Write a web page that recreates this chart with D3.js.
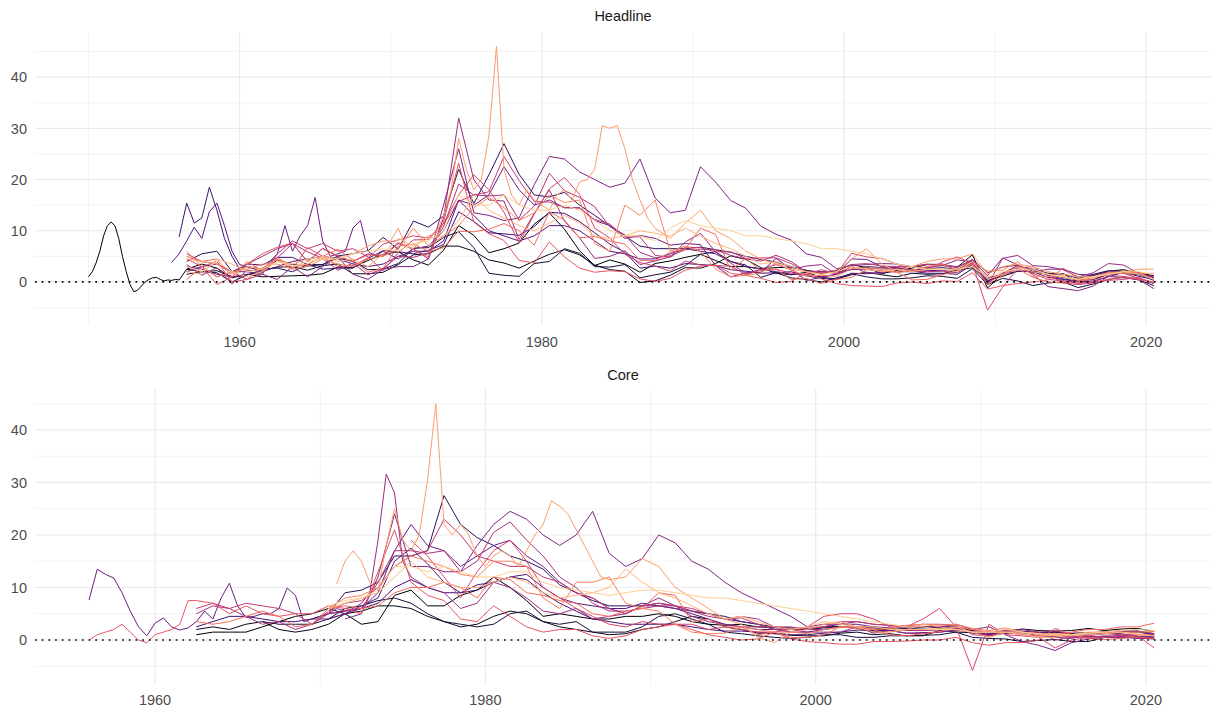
<!DOCTYPE html>
<html><head><meta charset="utf-8">
<script src="https://cdn.jsdelivr.net/npm/d3@7"></script>
<style>
body{margin:0;background:#fff;}
svg{display:block;font-family:"Liberation Sans",Arial,Helvetica,sans-serif;}
</style>
</head><body>
<svg id="chart" width="1214" height="708"></svg>
<script>
// ---------------- DATA (inflation, % y/y) ----------------
const panelTitles = ['Headline', 'Core'];
const xTickLabels = [1960, 1980, 2000, 2020];
const xMinorTicks = [1950, 1970, 1990, 2010];
const yTickLabels = [0, 10, 20, 30, 40];
const yMinorTicks = [-5, 5, 15, 25, 35, 45];
const countries = ['S01','S02','S03','S04','S05','S06','S07','S08','S09','S10','S11','S12','S13','S14','S15','S16','S17','S18'];

// ---- Headline ----
const h00a = [1.0,2.0,3.7,6.0,9.0,11.0,11.7,11.0,8.5,5.0,2.0,-0.5,-1.9,-1.6,-0.8,0.0,0.5,0.8,0.9,0.5,0.2,0.4,0.3,0.5,0.4];
const h00 = [2.5,3.5,2.7,0.8,1.5, 1.0,1.1,1.2,1.3,1.6, 2.9,2.8,4.2,5.4,5.9, 4.3,3.3,6.2,11.0,9.1,
  5.7,6.5,7.6,11.3,13.5, 10.3,6.1,3.2,4.3,3.5, 1.9,3.6,4.1,4.8,5.4, 4.2,3.0,3.0,2.6,2.8,
  2.9,2.3,1.6,2.2,3.4, 2.8,1.6,2.3,2.7,3.4, 3.2,2.9,5.3,-1.2,1.6, 3.2,2.1,1.5,1.6,0.1, 1.3,2.1,2.4,1.8,1.2];
const h01 = [2.5,2.0,2.2,1.0,1.4, 2.3,2.9,3.0,2.3,3.2, 3.5,1.6,1.6,1.9,3.4, 5.3,5.5,7.0,7.0,6.0,
  4.3,3.7,2.7,4.1,5.4, 6.3,5.3,3.3,2.4,2.1, -0.1,0.2,1.3,2.8,2.7, 3.6,5.1,4.4,2.8,1.7,
  1.4,1.9,0.9,0.6,1.4, 1.9,1.4,1.0,1.7,1.5, 1.6,2.3,2.8,0.3,1.1, 2.1,2.0,1.5,0.9,0.5, 0.5,1.5,1.7,1.4,0.5];
const h02 = [1.5,2.0,1.8,0.0,1.4, 1.9,4.3,3.4,3.1,3.4, 4.7,4.0,2.4,2.5,3.6, 6.6,6.7,8.7,9.8,6.7,
  1.7,1.3,1.1,3.6,4.0, 6.5,5.6,3.0,2.9,3.4, 0.8,1.4,1.9,3.2,5.4, 5.9,4.0,3.3,0.9,1.8,
  0.8,0.5,0.0,0.8,1.6, 1.0,0.6,0.6,0.8,1.2, 1.1,0.7,2.6,-0.5,0.7, 0.2,-0.7,-0.2,0.0,-1.1, -0.4,0.5,0.9,0.4,-0.7];
const h03 = [4.0,5.5,6.0,2.0,3.0, 2.5,2.7,2.0,3.4,3.4, 5.1,5.5,6.1,8.7,6.4, 11.9,10.7,12.9,22.0,15.3,
  20.9,27.0,21.0,17.0,16.6, 17.5,15.0,13.0,11.0,9.0, 7.0,6.5,6.5,6.5,6.8, 6.3,5.8,5.0,4.4,3.9,
  3.0,2.2,2.0,2.0,2.4, 3.0,2.8,2.6,2.3,2.6, 2.8,2.5,3.8,0.0,1.6, 3.0,2.5,1.7,1.6,0.7, 1.5,2.2,2.1,1.8,0.9];
const h04a = [8.8,15.4,11.5,12.5,18.5,14.0,8.5,5.0,2.5];
const h04 = [3.5, 3.3,4.8,4.8,3.4,2.5, 2.7,2.7,4.6,6.1,5.9, 5.5,6.2,7.3,13.7,11.8,
  9.6,9.4,9.1,10.8,13.6, 13.4,11.8,9.6,7.4,5.8, 2.7,3.1,2.7,3.6,3.4, 3.2,2.4,2.1,1.7,1.8,
  2.0,1.2,0.7,0.5,1.7, 1.6,1.9,2.1,2.1,1.7, 1.7,1.5,3.4,0.1,1.5, 2.1,2.0,0.9,0.5,0.0, 0.2,1.0,1.9,1.1,0.5];
const h05a = [3.8,5.5,8.0,10.7,8.5,13.7,15.4,11.0,6.0,3.4];
const h05 = [3.0, 2.0,3.0,4.0,4.5,5.0, 4.5,3.5,3.0,3.5,5.0, 6.0,6.0,8.0,16.0,13.0,
  10.0,9.0,8.0,9.0,11.0, 11.0,10.0,8.0,6.0,5.5, 4.5,4.5,5.5,6.5,6.0, 5.5,4.0,3.0,2.5,2.0,
  1.5,1.5,1.0,1.5,2.5, 2.5,2.0,2.0,2.0,2.2, 2.3,2.3,3.7,0.5,1.5, 3.0,2.5,1.3,0.6,0.2, 0.5,1.5,1.8,1.5,0.3];
const h06a = [2.0,3.0,3.5,2.0,2.0,1.5];
const h06b = [4.0,5.5,11.0,6.0,9.0,11.0,16.5,8.0,5.0,5.5,6.0,10.5,12.0,6.0,5.0,6.0];
const h06 = [4.5, 6.5,7.0,10.0,16.0,15.0, 17.0,22.5,18.0,15.0,16.0, 14.5,14.5,12.0,11.0,8.5,
  9.1,8.5,7.2,7.5,7.3, 3.2,1.0,1.8,1.9,4.6, 2.6,0.3,0.9,1.5,4.5, 4.4,3.0,2.8,2.3,2.7,
  3.5,2.3,4.4,1.8,2.9, 3.3,1.8,2.5,2.5,1.5, 1.3,2.0,1.9,1.6,0.9];
const h07 = [3.0,2.5,1.5,1.0,1.5, 1.5,0.5,3.0,1.0,3.0, 5.0,1.5,0.5,2.5,3.0, 3.0,4.5,15.0,26.0,13.5,
  13.0,12.0,12.5,19.0,24.5, 24.0,21.5,20.0,18.5,19.3, 24.0,16.4,13.5,14.0,22.5, 19.5,15.9,14.4,10.9,9.3,
  8.2,5.5,4.8,2.6,3.2, 3.4,3.6,3.5,3.0,3.5, 3.3,3.0,4.2,1.2,4.7, 3.3,1.5,-0.9,-1.3,-1.7, -0.8,1.1,0.8,0.5,-1.3];
const h08 = [2.0,3.0,1.0,2.0,3.5, 5.0,6.5,7.5,4.0,6.5, 5.0,4.0,5.5,5.0,7.5, 6.5,4.5,12.5,32.0,20.0,
  16.0,15.8,8.3,13.4,18.0, 11.9,8.6,4.6,5.0,6.1, 3.4,4.1,4.9,7.8,9.5, 5.9,3.7,1.6,2.5,3.4,
  2.4,3.1,3.4,1.5,3.0, 1.8,1.7,2.9,3.0,2.8, 3.2,4.3,4.0,-0.5,4.6, 5.2,3.2,3.0,2.4,1.0, 1.8,3.6,3.3,1.7,1.0];
const h09 = [3.4,1.3,2.8,-0.4,2.3, 2.1,4.7,7.5,5.9,4.6, 2.3,3.7,1.4,2.6,5.0, 4.8,5.7,10.8,19.1,17.0,
  16.8,17.0,12.1,14.8,21.2, 17.8,16.5,14.7,10.8,9.2, 5.8,4.7,5.1,6.3,6.4, 6.3,5.2,4.5,4.1,5.2,
  4.0,2.0,2.0,1.7,2.5, 2.8,2.5,2.7,2.2,2.0, 2.1,1.8,3.6,0.8,1.5, 2.7,3.0,1.2,0.2,0.0, -0.1,1.2,1.1,0.6,-0.1];
const h10 = [5.5,4.0,3.5,2.0,0.5, 1.5,5.5,8.0,6.5,7.5, 6.0,6.5,4.9,2.2,5.7, 8.2,8.3,11.4,15.7,17.0,
  17.6,24.5,19.8,15.7,15.6, 14.5,14.4,12.2,11.3,8.8, 8.8,5.2,4.8,6.8,6.7, 5.9,5.9,4.6,4.7,4.7,
  3.6,2.0,1.8,2.3,3.4, 3.6,3.1,3.0,3.0,3.4, 3.5,2.8,4.4,-0.3,1.8, 3.2,2.4,1.4,-0.2,-0.5, -0.2,2.0,1.7,0.7,-0.3];
const h11 = [4.5,3.0,4.0,0.0,0.5, 2.7,4.3,2.5,6.7,5.0, 3.0,3.2,4.7,7.4,8.2, 9.0,8.6,11.4,17.0,20.9,
  18.0,13.6,7.6,13.2,18.2, 20.4,17.1,10.5,8.6,5.4, 3.8,3.1,2.1,4.1,3.3, 3.2,3.1,1.4,2.3,2.5,
  1.7,1.4,2.4,1.6,5.6, 4.9,4.6,3.5,2.2,2.4, 3.9,4.9,3.6,-5.5,-1.0, 2.6,1.7,0.5,0.2,-0.3, 0.0,0.3,0.5,0.9,-0.3];
const h12 = [0.5,3.0,-0.5,1.0,3.5, 5.5,6.8,7.6,3.9,6.6, 5.1,4.0,5.3,5.2,7.7, 6.3,4.9,11.7,23.2,11.7,
  9.4,8.1,4.2,3.7,7.8, 4.9,2.7,1.9,2.2,2.0, 0.6,0.1,0.7,2.3,3.1, 3.3,1.7,1.3,0.7,-0.1,
  0.1,1.8,0.6,-0.3,-0.7, -0.8,-0.9,-0.2,0.0,-0.3, 0.2,0.1,1.8,-1.4,-0.7, -0.3,0.0,0.4,2.7,0.8, -0.1,0.5,1.0,0.5,0.0];
const h13 = [5.0,4.0,4.5,1.0,4.0, 2.2,4.8,2.9,3.4,5.0, 6.4,4.3,1.9,2.7,7.0, 7.4,6.0,6.7,9.9,9.8,
  10.3,11.4,10.0,7.2,13.7, 12.1,8.6,8.9,8.0,7.4, 4.2,4.2,5.8,6.4,10.5, 9.3,2.3,4.6,2.2,2.5,
  0.5,0.7,-0.3,0.5,0.9, 2.4,2.2,1.9,0.4,0.5, 1.4,2.2,3.6,-0.5,1.3, 2.6,0.9,0.0,-0.2,0.0, 1.0,1.8,2.0,1.8,0.5];
const h14 = [6.0,3.0,1.0,2.0,2.5, 3.5,3.5,2.5,3.0,4.5, 3.5,3.0,4.5,5.0,6.5, 10.5,7.0,9.0,11.0,14.5,
  16.5,14.5,12.0,13.5,17.0, 15.5,16.0,7.5,6.0,15.0, 13.0,16.0,6.0,7.0,6.0, 2.5,1.0,1.3,1.7,3.8,
  2.3,1.2,1.3,1.1,2.6, 2.7,2.7,1.8,2.3,3.0, 3.4,2.4,4.0,2.1,2.3, 4.0,1.1,1.1,1.2,0.3, 0.6,1.9,1.6,1.6,1.7];
const h15a = [4.5,4.0,3.5,1.5,3.0, 2.5,4.5,3.0,3.5,5.0, 4.5,5.5,7.0,8.0];
const h15b = [8.0,10.5,7.0,6.5,8.0,9.0,9.5,13.0,18.0,28.0,22.0,18.0,20.0,28.5,46.0,22.0,17.0,15.0,18.0,16.0,
  15.0,14.0,17.0,18.0,16.0,19.5,20.0,22.0,30.5,30.0,30.5,26.0,20.0,16.0,12.5,10.5];
const h15c = [8.5,11.5,14.0, 10.0,8.5,6.0,4.5,3.5, 2.5,2.0,1.5,2.0,4.5, 6.5,3.5,2.0,3.0,4.0,
  4.5,4.5,5.5,1.5,3.0, 3.5,3.0,2.0,1.5,1.0, 1.0,1.5,2.0,2.5,2.5];
const h16 = [2.0,1.5,4.5,3.5,2.0, 2.5,4.0,3.5,4.5,5.0, 4.0,4.5,3.0,5.5,8.5, 7.0,8.5,9.0,12.0,17.0,
  14.0,12.5,11.0,10.0,11.5, 13.0,11.5,9.0,8.5,9.0, 10.0,9.5,9.0,10.5,9.0, 7.5,6.5,5.0,3.5,4.0,
  3.0,2.0,1.5,2.0,3.0, 2.5,2.0,2.5,2.0,2.5, 2.5,2.0,4.0,0.5,1.5, 3.0,2.0,1.5,1.0,0.5, 1.0,1.5,2.0,1.5,0.5];
const h17 = [3.0,2.0,4.0,2.0,1.0, 2.0,4.0,3.0,4.0,4.5, 4.5,5.5,6.0,6.5,6.0, 7.5,8.0,10.0,17.0,15.0,
  15.0,17.0,15.0,14.0,14.0, 15.0,14.0,12.0,10.0,9.0, 9.0,8.0,10.5,12.0,11.0, 10.5,10.0,9.0,9.0,8.5,
  8.0,7.5,6.5,6.5,6.0, 5.5,4.5,3.5,3.0,2.5, 2.5,2.5,3.0,1.0,2.0, 2.5,2.5,1.5,1.0,0.5, 1.0,1.5,2.0,2.0,1.5];

// ---- Core ----
const c00 = [1.0,1.5,1.5,1.5, 2.5,3.5,4.5,5.0,6.0, 5.0,3.0,3.5,8.5,9.5, 6.5,6.5,8.5,9.5,12.0,
  10.0,7.5,4.5,5.0,4.5, 4.0,4.0,4.5,4.5,5.0, 4.5,3.5,3.0,2.8,3.0, 2.5,2.3,2.3,2.0,2.5,
  2.6,2.3,1.5,1.8,2.2, 2.5,2.3,2.3,1.7,1.0, 1.6,2.1,1.8,1.7,1.8, 2.2,1.8,2.1,2.2,1.6];
const c01 = [2.0,2.5,2.0,3.0, 3.5,2.0,1.5,2.0,3.0, 5.0,5.5,6.5,6.5,6.0, 4.5,3.5,2.5,3.0,4.5,
  5.5,5.0,3.5,2.5,2.0, 1.5,1.0,1.2,2.0,2.5, 3.5,4.5,4.0,2.5,2.0, 1.3,1.2,0.9,0.8,0.8,
  1.3,1.5,1.0,1.2,0.8, 0.8,1.8,1.5,1.4,0.8, 1.3,1.5,1.3,1.5,1.2, 1.3,1.5,1.4,1.6,1.0];
const c02 = [3.5,3.0,3.0,3.0,4.0, 6.0,6.5,7.5,8.0,7.0, 5.0,3.5,3.0,2.5,3.0, 5.0,5.5,3.5,3.0,3.5,
  1.5,1.5,1.5,2.5,4.5, 5.0,4.0,3.0,1.5,1.2, 0.8,0.5,0.3,0.5,1.0, 1.0,0.5,0.5,0.8,0.8,
  0.9,1.0,1.5,0.5,0.3, 0.2,-0.3,-0.1,0.1,-0.3, -0.3,0.5,0.6,0.4,0.2];
const c03 = [4.0,5.0, 9.0,9.5,11.0,16.0,16.0, 17.0,27.5,22.0,19.5,18.0, 16.0,15.0,13.5,10.5,9.0,
  7.5,6.5,6.5,6.5,7.0, 6.5,5.5,5.0,4.5,3.5, 3.0,2.5,2.0,2.0,2.3, 2.5,2.5,2.3,2.0,2.2,
  2.3,2.4,2.5,1.8,1.5, 1.8,1.7,1.4,1.5,1.3, 1.4,1.5,1.6,1.7,1.2];
const c04 = [2.5,3.5,4.5,4.5, 4.0,3.5,3.5,4.0,5.0, 5.5,6.0,7.0,10.0,11.5, 10.0,9.0,9.0,9.5,11.0,
  12.0,11.5,9.0,7.0,5.5, 4.0,3.5,3.0,3.0,3.0, 3.0,2.5,2.0,1.7,1.7, 1.5,1.3,1.0,1.0,1.3,
  1.5,1.9,1.8,1.8,1.3, 1.4,1.5,1.9,1.7,1.1, 1.3,1.5,0.8,0.7,0.6, 0.7,0.6,0.9,0.7,0.7];
const c05 = [4.0, 5.0,6.5,8.0,15.0,17.5, 14.5,11.0,9.0,10.5,11.0, 12.0,12.5,10.0,8.0,7.0,
  6.5,6.0,6.0,7.0,6.5, 6.0,5.0,4.0,3.0,2.5, 2.0,2.0,1.5,1.5,2.0, 2.5,2.5,2.0,2.0,2.0,
  2.0,2.0,2.0,1.5,1.2, 1.5,1.5,1.2,1.0,0.8, 1.0,1.2,1.5,1.5,1.0];
const c06a = [7.6,13.5,12.5,11.8,9.0,5.5,2.5,0.8,3.2,4.2,2.5,1.9,2.3,3.5,5.5,4.0,8.0,10.8,6.5,4.3,
  4.5,5.0,5.0,6.0,9.9,8.5,3.5,4.0];
const c06 = [4.0, 5.0,6.0,9.0,17.0,22.0, 18.0,17.0,14.0,16.0,18.0, 19.0,16.0,14.0,11.0,9.0,
  8.0,6.0,5.0,6.5,6.5, 6.0,5.5,5.0,4.0,3.5, 3.0,2.0,2.0,2.2,2.5, 3.0,3.0,2.5,2.3,2.5,
  2.5,2.5,2.5,1.3,1.0, 1.5,1.5,1.5,0.5,0.3, 1.0,1.3,1.2,0.7,0.4];
const c07 = [4.0,5.0,12.0,24.0,14.0, 14.0,13.0,13.0,18.0,22.0, 24.5,23.0,20.0,18.0,20.0,
  24.5,16.5,14.0,15.5,20.0, 18.5,15.0,13.5,11.0,9.0, 7.5,6.0,4.5,2.5,3.0, 3.0,3.5,3.0,2.8,2.5,
  2.6,2.5,3.0,2.0,2.5, 1.0,-0.3,-1.0,-2.0,-0.5, 0.2,0.5,0.5,0.3,0.3];
const c08a = [4.5,5.0,6.0,5.5,6.0,7.0,9.0,19.0,31.6,28.0,15.0,12.0,11.0,10.0];
const c08 = [9.0,6.0,7.0,11.0, 10.0,8.0,5.5,5.0,6.0, 4.0,4.5,5.0,6.5,8.0, 6.5,4.5,3.5,3.0,2.5,
  2.5,2.5,2.0,1.5,1.5, 1.5,2.5,1.3,1.8,1.3, 1.2,1.5,1.8,1.6,0.8, 1.7,2.0,1.5,1.7,1.1, 1.3,1.5,1.8,1.7,1.2];
const c09 = [5.0,6.5,6.0,4.5, 3.0,3.5,2.0,3.0,5.0, 5.5,6.0,11.0,17.0,17.0, 16.5,17.0,13.0,15.0,20.5,
  22.5,19.0,16.0,12.0,10.0, 7.0,5.5,5.5,6.0,6.5, 6.5,5.5,4.5,4.0,4.5, 4.0,2.5,2.5,2.0,2.0,
  2.5,2.5,2.5,2.2,1.8, 1.8,1.9,2.2,1.6,1.5, 1.8,1.5,1.0,0.7,0.6, 0.5,0.8,0.7,0.5,0.5];
const c10 = [6.0,7.0,6.0,7.0, 6.5,6.0,5.0,3.0,5.5, 7.0,7.5,10.0,14.0,16.0, 17.0,23.0,20.0,16.0,15.0,
  14.0,14.0,12.0,11.0,9.0, 8.0,6.0,5.0,6.5,7.0, 6.5,6.0,5.0,4.0,4.2, 3.0,2.0,2.0,2.2,2.5,
  3.5,3.5,3.0,2.8,2.7, 3.0,3.0,2.8,1.0,0.8, 1.5,1.3,1.5,0.0,0.5, 0.8,1.2,1.0,1.0,1.0];
const c11 = [19.0,16.0,12.0,8.0,13.0,17.0, 19.0,15.0,10.0,8.0,6.0, 4.5,3.0,2.5,3.5,3.0,
  3.0,3.0,2.0,2.5,2.0, 1.5,1.5,2.0,2.5,4.5, 5.0,5.0,4.0,2.5,2.5, 4.0,6.0,2.5,-5.8,3.0,
  1.0,0.8,0.5,-1.5,0.0, 0.5,0.5,0.8,0.8,-1.5];
const c12a = [0.0,1.0,1.5,2.0,3.0,1.5,0.0,-0.5,1.0,1.5,2.0,3.0,7.5];
const c12 = [7.5,7.0,5.0,6.5, 5.0,4.5,5.0,5.0,6.5, 6.0,5.0,13.0,21.0,11.0, 8.5,7.5,4.0,3.5,6.5,
  4.5,2.5,1.5,2.0,2.0, 0.8,0.3,0.8,2.0,2.5, 3.0,2.0,1.0,0.5,0.0, 0.2,1.5,0.2,-0.3,-0.5,
  -0.8,-0.8,-0.3,-0.3,-0.2, 0.0,0.0,0.5,-0.5,-1.0, -0.5,-0.5,0.0,2.2,1.0, 0.3,0.1,0.3,0.6,0.2];
const c13 = [3.5,3.0,3.5,4.5, 5.5,4.5,2.5,3.0,6.0, 6.5,6.0,6.5,9.0,10.0, 10.0,11.0,10.0,8.0,12.0,
  11.5,9.0,8.5,7.5,7.0, 5.0,4.5,5.5,6.0,9.0, 8.5,3.5,4.0,2.5,2.5, 1.0,1.5,0.5,0.5,1.0,
  2.5,2.2,2.0,1.0,0.8, 1.2,1.6,2.5,2.0,1.5, 1.5,1.0,0.8,1.0,1.5, 2.0,2.0,2.5,2.5,3.2];
const c14 = [6.0, 8.0,8.5,10.0,14.0,16.0, 15.0,14.0,12.5,12.0,15.0, 15.0,14.0,8.0,6.0,11.0,
  11.0,12.0,7.0,6.0,5.5, 3.0,1.5,1.2,1.3,2.5, 2.0,1.5,1.5,1.2,2.0, 2.5,2.5,2.0,2.2,2.8,
  3.0,2.8,3.0,2.2,1.8, 2.3,1.5,1.2,1.2,1.0, 1.3,1.5,1.5,1.5,1.6];
const c15a = [10.7,15.0,17.0,15.0,11.0,9.5,18.0,25.0,19.0,17.0, 20.0,30.5,45.0,22.0,20.0,22.0,20.0,16.0,14.0,16.0,
  17.0,16.0,14.0,17.0,20.0,22.0,26.5,25.5,24.0,21.0, 18.0,15.0,12.0,11.5];
const c15 = [12.0,15.5,14.0, 10.0,8.0,6.0,4.0,3.0, 0.5,-0.5,1.5,2.0,3.0, 3.5,2.5,1.5,1.5,2.0,
  3.0,2.5,2.0,1.5,0.5, 1.5,1.0,0.5,0.5,1.0, 1.5,1.5,1.5,1.0,0.8];
const c16 = [6.0, 7.0,8.0,9.0,12.0,15.0, 12.0,11.0,10.0,10.0,11.0, 12.0,11.0,9.0,8.0,8.5,
  9.0,10.0,13.5,11.0,9.0, 8.0,6.5,5.0,4.0,4.5, 3.5,2.5,2.0,2.5,3.5, 3.0,2.5,2.5,2.0,2.0,
  2.0,2.0,2.5,1.5,1.5, 2.0,1.5,1.0,0.8,0.8, 1.0,1.2,1.5,1.2,0.8];
const c17 = [6.5, 7.5,8.0,9.5,14.0,14.0, 13.0,14.0,13.0,12.0,12.0, 13.0,13.0,11.0,10.0,9.5,
  9.0,8.5,9.0,9.5,9.5, 9.0,8.5,8.0,8.0,7.5, 7.0,6.5,6.0,5.5,5.0, 4.5,4.0,3.5,3.0,2.5,
  2.5,2.0,2.0,1.5,1.5, 1.5,1.5,1.2,1.0,1.0, 1.3,1.5,1.8,2.0,1.8];

// series table: [country index, [start year, step in years, values]...]
const headlineSeries = [
  [0, [1950, 0.25, h00a], [1956.5, 1, h00]],
  [1, [1956.5, 1, h01]],
  [2, [1956.5, 1, h02]],
  [3, [1956.5, 1, h03]],
  [4, [1956, 0.5, h04a], [1960.5, 1, h04]],
  [5, [1955.5, 0.5, h05a], [1960.5, 1, h05]],
  [6, [1956.5, 1, h06a], [1962, 0.5, h06b], [1970.5, 1, h06]],
  [7, [1956.5, 1, h07]],
  [8, [1956.5, 1, h08]],
  [9, [1956.5, 1, h09]],
  [10, [1956.5, 1, h10]],
  [11, [1956.5, 1, h11]],
  [12, [1956.5, 1, h12]],
  [13, [1956.5, 1, h13]],
  [14, [1956.5, 1, h14]],
  [15, [1956.5, 1, h15a], [1970, 0.5, h15b], [1988.5, 1, h15c]],
  [16, [1956.5, 1, h16]],
  [17, [1956.5, 1, h17]]
];
const coreSeries = [
  [0, [1962.5, 1, c00]],
  [1, [1962.5, 1, c01]],
  [2, [1966.5, 1, c02]],
  [3, [1969.5, 1, c03]],
  [4, [1962.5, 1, c04]],
  [5, [1970.5, 1, c05]],
  [6, [1956, 0.5, c06a], [1970.5, 1, c06]],
  [7, [1971.5, 1, c07]],
  [8, [1970, 0.5, c08a], [1977.5, 1, c08]],
  [9, [1962.5, 1, c09]],
  [10, [1962.5, 1, c10]],
  [11, [1975.5, 1, c11]],
  [12, [1956, 0.5, c12a], [1962.5, 1, c12]],
  [13, [1962.5, 1, c13]],
  [14, [1970.5, 1, c14]],
  [15, [1971, 0.5, c15a], [1988.5, 1, c15]],
  [16, [1970.5, 1, c16]],
  [17, [1970.5, 1, c17]]
];

// ---------------- DRAWING ----------------
const svg = d3.select('#chart');
const colour = d3.scaleOrdinal()
  .domain(d3.range(countries.length))
  .range(d3.range(countries.length).map(i => d3.interpolateMagma(i / (countries.length - 1) * 0.9)));

const layout = [
  { series: headlineSeries, xDomain: [1946.46, 2024.29], yDomain: [-8.4, 48.8], top: 32, bottom: 325, titleY: 20.5, labelY: 346.5 },
  { series: coreSeries,     xDomain: [1952.73, 2023.94], yDomain: [-8.57, 47.8], top: 389, bottom: 685, titleY: 380, labelY: 704.5 }
];
const left = 35, right = 1211;

function toPoints(segs) {
  const pts = [];
  segs.forEach(([start, step, vals]) => vals.forEach((v, i) => pts.push([start + i * step, v])));
  return pts;
}

layout.forEach((p, k) => {
  const x = d3.scaleLinear().domain(p.xDomain).range([left, right]);
  const y = d3.scaleLinear().domain(p.yDomain).range([p.bottom, p.top]);
  const g = svg.append('g');

  const xMin = xMinorTicks.filter(d => d > p.xDomain[0] && d < p.xDomain[1]);
  // minor grid
  g.append('g').selectAll('line').data(yMinorTicks.filter(d => d > p.yDomain[0] && d < p.yDomain[1])).join('line')
    .attr('x1', left).attr('x2', right).attr('y1', d => y(d)).attr('y2', d => y(d))
    .attr('stroke', '#ebebeb').attr('stroke-width', 0.6);
  g.append('g').selectAll('line').data(xMin).join('line')
    .attr('x1', d => x(d)).attr('x2', d => x(d)).attr('y1', p.top).attr('y2', p.bottom)
    .attr('stroke', '#ebebeb').attr('stroke-width', 0.6);
  // major grid
  g.append('g').selectAll('line').data(yTickLabels).join('line')
    .attr('x1', left).attr('x2', right).attr('y1', d => y(d)).attr('y2', d => y(d))
    .attr('stroke', '#ebebeb').attr('stroke-width', 1.2);
  g.append('g').selectAll('line').data(xTickLabels).join('line')
    .attr('x1', d => x(d)).attr('x2', d => x(d)).attr('y1', p.top).attr('y2', p.bottom)
    .attr('stroke', '#ebebeb').attr('stroke-width', 1.2);

  // series lines
  const line = d3.line().x(d => x(d[0])).y(d => y(d[1]));
  g.append('g').selectAll('path').data(p.series).join('path')
    .attr('d', s => line(toPoints(s.slice(1))))
    .attr('fill', 'none')
    .attr('stroke', s => colour(s[0]))
    .attr('stroke-width', 1)
    .attr('stroke-linejoin', 'round');

  // zero line (dotted)
  g.append('line')
    .attr('x1', left).attr('x2', right).attr('y1', y(0)).attr('y2', y(0))
    .attr('stroke', '#000').attr('stroke-width', 1.7).attr('stroke-dasharray', '1.7,5');

  // y labels
  g.append('g').selectAll('text').data(yTickLabels).join('text')
    .attr('x', 27).attr('y', d => y(d)).attr('dy', '0.36em')
    .attr('text-anchor', 'end').attr('font-size', 14.5).attr('fill', '#4d4d4d')
    .text(d => d);
  // x labels
  g.append('g').selectAll('text').data(xTickLabels).join('text')
    .attr('x', d => x(d)).attr('y', p.labelY)
    .attr('text-anchor', 'middle').attr('font-size', 14.5).attr('fill', '#4d4d4d')
    .text(d => d);
  // strip title
  g.append('text').attr('x', (left + right) / 2).attr('y', p.titleY)
    .attr('text-anchor', 'middle').attr('font-size', 14.5).attr('fill', '#1a1a1a')
    .text(panelTitles[k]);
});
</script>
</body></html>
